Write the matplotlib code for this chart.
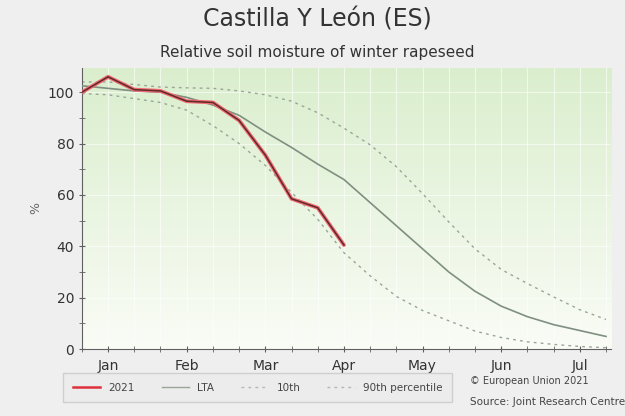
import numpy as np
import matplotlib.pyplot as plt
from matplotlib.lines import Line2D

# dekads from early January to late July
dekads = np.arange(21)
month_pos = [1, 4, 7, 10, 13, 16, 19]
month_labels = ['Jan', 'Feb', 'Mar', 'Apr', 'May', 'Jun', 'Jul']

# relative soil moisture (%)
y2021 = [100, 106, 101, 100.5, 96.5, 96, 89, 75.5, 58.5, 55, 40.5]
lta = [102.5, 101.5, 100.5, 100, 98, 95, 91, 84.5, 78.5, 72, 66,
       57, 48, 39, 30, 22.5, 16.7, 12.6, 9.5, 7.2, 4.9]
p10 = [99.5, 99, 97.5, 96, 93, 87, 80, 71.5, 61, 50.5, 37.5,
       28.5, 20.5, 15, 11, 7, 4.5, 2.8, 1.8, 1, 0.5]
p90 = [104, 104, 103, 102, 101.7, 101.5, 100.5, 99, 96.5, 92, 86,
       79.5, 71, 60.5, 49.5, 39, 31, 25.5, 20.3, 15.3, 11.5]

fig = plt.figure(figsize=(6.25, 4.16), dpi=100, facecolor='#efefef')
ax = fig.add_axes([0.131, 0.161, 0.847, 0.676])
ax.set_xlim(0, 20.2)
ax.set_ylim(0, 109.5)

# green-to-white gradient background
grad = np.linspace(0, 1, 256).reshape(-1, 1)
top = np.array([218, 238, 205]) / 255
bot = np.array([250, 252, 246]) / 255
img = bot + (top - bot) * grad[..., None]
ax.imshow(img, extent=[0, 20.2, 0, 109.5], origin='lower', aspect='auto', zorder=0)

for d in dekads:
    ax.axvline(d, color='white', lw=0.8, alpha=0.6, zorder=1)
for v in range(0, 101, 20):
    ax.axhline(v, color='white', lw=0.8, alpha=0.6, zorder=1)

ax.plot(dekads, p90, color='#9aa59a', lw=1, ls=(0, (2, 3)), zorder=2)
ax.plot(dekads, p10, color='#9aa59a', lw=1, ls=(0, (2, 3)), zorder=2)
ax.plot(dekads, lta, color='#7f8f80', lw=1.2, zorder=3)
ax.plot(dekads[:len(y2021)], y2021, color='#f06a72', lw=2.8, zorder=4, solid_capstyle='round')
ax.plot(dekads[:len(y2021)], y2021, color='#5e2a2a', lw=1.1, zorder=5)

for s in ['top', 'right']:
    ax.spines[s].set_visible(False)
for s in ['left', 'bottom']:
    ax.spines[s].set_color('#606060')

ax.set_yticks(range(0, 101, 20))
ax.set_yticks(range(10, 101, 20), minor=True)
ax.set_xticks(month_pos)
ax.set_xticklabels(month_labels)
ax.set_xticks(dekads, minor=True)
ax.tick_params(axis='both', which='both', direction='inout', color='#606060',
               labelsize=10, labelcolor='#333333', length=4)
ax.tick_params(axis='x', which='major', pad=5)
ax.set_ylabel('%', fontsize=9, color='#666666', labelpad=4)

fig.text(0.508, 0.952, 'Castilla Y León (ES)', ha='center', va='center',
         fontsize=17, color='#333333')
fig.text(0.508, 0.873, 'Relative soil moisture of winter rapeseed', ha='center',
         va='center', fontsize=11, color='#333333')

handles = [
    Line2D([], [], color='#e0303c', lw=1.8),
    Line2D([], [], color='#9aa59a', lw=1),
    Line2D([], [], color='#b0b8b0', lw=1, ls=(0, (2, 3))),
    Line2D([], [], color='#b0b8b0', lw=1, ls=(0, (2, 3))),
]
leg = fig.legend(handles, ['2021', 'LTA', '10th', '90th percentile'], ncol=4,
                 loc='center left', bbox_to_anchor=(0.093, 0.068), fontsize=7.5,
                 frameon=True, fancybox=False, edgecolor='#c8c8c8',
                 facecolor='#ececec', columnspacing=2.6, handlelength=2.6,
                 borderpad=0.9)
for t in leg.get_texts():
    t.set_color('#444444')

fig.text(0.752, 0.085, '© European Union 2021', fontsize=7, color='#444444', va='center')
fig.text(0.752, 0.033, 'Source: Joint Research Centre', fontsize=7.5, color='#444444', va='center')

fig.savefig('out.png', dpi=100, facecolor=fig.get_facecolor())
